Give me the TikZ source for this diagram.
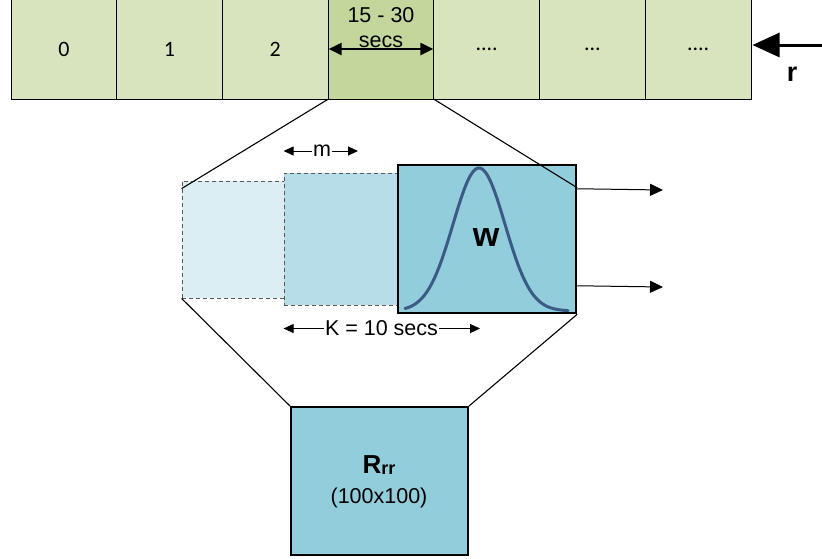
\documentclass[tikz,border=0pt]{standalone}
\usepackage{fontspec}
\setmainfont{Liberation Sans}
\newfontfamily\calfont{Carlito}
\usetikzlibrary{arrows.meta,calc}
\definecolor{cellg}{HTML}{D7E4BD}
\definecolor{cellh}{HTML}{C3D69B}
\definecolor{blueA}{HTML}{DAEEF3}
\definecolor{blueB}{HTML}{B7DEE8}
\definecolor{blueC}{HTML}{92CDDC}
\definecolor{curvec}{HTML}{3B5A85}
\definecolor{dashg}{HTML}{595959}
\tikzset{
  cell/.style={draw, fill=cellg, line width=0.8pt, minimum width=105.71pt, minimum height=100pt, inner sep=0pt, font=\calfont\fontsize{22}{22}\selectfont},
  lbl/.style={inner sep=1pt, font=\fontsize{21.5}{24}\selectfont},
  dashbox/.style={draw=dashg, dashed, dash pattern=on 4pt off 3pt, line width=0.8pt, inner sep=0pt},
  conn/.style={line width=1.1pt},
  thinarrow/.style={line width=1pt, -{Triangle[length=10pt,width=9pt]}},
  outarrow/.style={line width=1pt, -{Triangle[length=13pt,width=12pt]}},
  dblarrow/.style={line width=2.5pt, {Triangle[length=13pt,width=12pt]}-{Triangle[length=13pt,width=12pt]}},
  bigarrow/.style={line width=3pt, -{Triangle[length=27pt,width=24pt]}},
}
\begin{document}
\begin{tikzpicture}[x=1pt,y=-1pt]
\useasboundingbox (0,0) rectangle (822,558);
% top strip
\node[cell] (c0) at (63.857,49) {0};
\node[cell] (c1) at (169.571,49) {1};
\node[cell] (c2) at (275.286,49) {2};
\node[cell, fill=cellh] (c3) at (381,49) {};
\node[cell] (c4) at (486.714,49) {....};
\node[cell] (c5) at (592.429,49) {...};
\node[cell] (c6) at (698.143,49) {....};
\node[lbl] (t1) at (381,15.5) {15 - 30};
\node[lbl] (t2) at (381,41.5) {secs};
\draw[dblarrow] ([xshift=1pt]c3.west) -- ([xshift=-1pt]c3.east);
% r arrow
\coordinate (rstart) at (822,45);
\coordinate (rend) at (752.5,45);
\draw[bigarrow] (rstart) -- (rend);
\node[inner sep=0pt, font=\bfseries\fontsize{27}{27}\selectfont] (rlab) at (792,74) {r};
% blue windows
\node[dashbox, fill=blueA, minimum width=102pt, minimum height=117pt] (lrect) at (233,239.5) {};
\node[dashbox, fill=blueB, minimum width=114pt, minimum height=132pt] (mrect) at (341,239) {};
\node[draw, fill=blueC, line width=2.5pt, minimum width=178pt, minimum height=148pt, inner sep=0pt] (W) at (487,239) {};
\draw[curvec, line width=3pt, line cap=round] plot[domain=405:568, samples=120, smooth] (\x,{311-143*exp(-((\x-479)/26)*((\x-479)/26)/2)});
\node[inner sep=0pt, font=\bfseries\fontsize{34}{34}\selectfont] (wlab) at (486,238) {w};
% R box
\node[draw, fill=blueC, line width=2pt, minimum width=177pt, minimum height=148pt, inner sep=0pt] (R) at (379.5,481) {};
\node[inner sep=0pt, font=\bfseries\fontsize{26}{26}\selectfont] (rrlab) at (379,465) {R\raisebox{-1.5pt}{\fontsize{18}{18}\selectfont rr}};
\node[lbl] (dims) at (379,498) {(100x100)};
% connectors
\draw[conn] (c3.south west) -- ($(lrect.north west)+(0,8)$);
\draw[conn] (c3.south east) -- ($(W.north east)+(0,24)$);
\draw[conn] (lrect.south west) -- (R.north west);
\draw[conn] (W.south east) -- (R.north east);
% output arrows
\coordinate (o1) at (663,190);
\coordinate (o2) at (663,287);
\draw[outarrow] ($(W.north east)+(0,25)$) -- (o1);
\draw[outarrow] ($(W.north east)+(0,122)$) -- (o2);
% m arrow
\node[lbl] (mlab) at (322,151) {m};
\coordinate (mR) at (358,151);
\draw[thinarrow] (mlab.west) -- (mlab.west -| mrect.west);
\draw[thinarrow] (mlab.east) -- (mR);
% K arrow
\node[lbl] (klab) at (381.5,328.5) {K = 10 secs};
\coordinate (kR) at (480,328.5);
\draw[thinarrow] (klab.west) -- (klab.west -| mrect.west);
\draw[thinarrow] (klab.east) -- (kR);
\end{tikzpicture}
\end{document}
